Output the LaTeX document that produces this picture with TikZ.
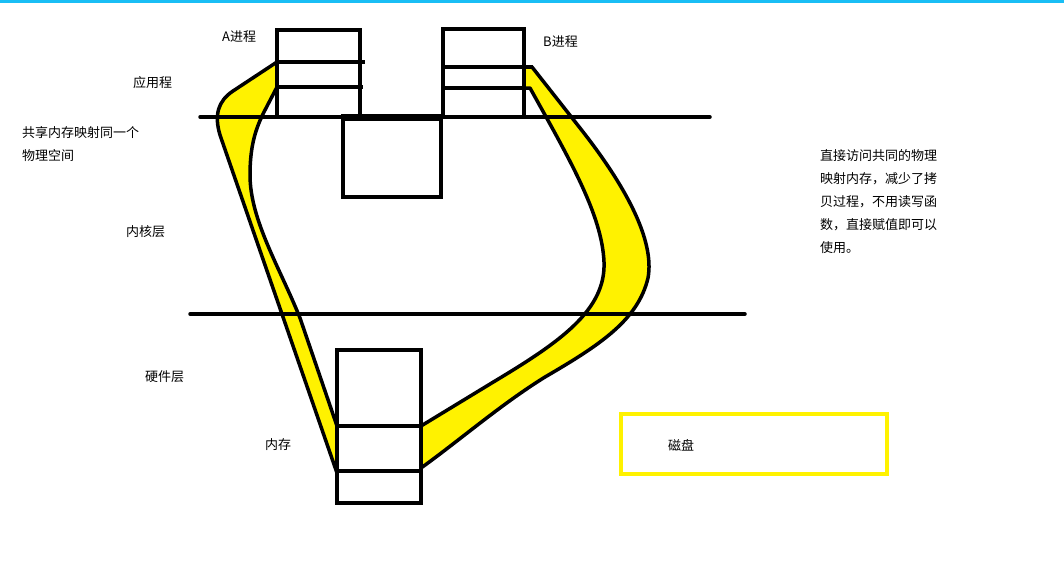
\documentclass[tikz,border=0pt]{standalone}
\usepackage{fontspec}
\setmainfont{Noto Sans CJK SC}
\definecolor{bandyellow}{RGB}{255,242,0}
\definecolor{topbar}{RGB}{25,190,245}
\tikzset{
  box/.style={draw, line width=4pt, inner sep=0pt},
  band/.style={fill=bandyellow, draw, line width=3.5pt, line join=round},
  layer/.style={line width=3.5pt, line cap=round},
  lbl/.style={font=\fontsize{13}{16}\selectfont, inner sep=0pt, anchor=west},
}
\begin{document}
\begin{tikzpicture}[x=1pt, y=-1pt]
    \useasboundingbox (0,0) rectangle (1064,568);
    \fill[topbar] (0,0) rectangle (1064,2.5);
    \draw[band] (277,62) -- (233,91) .. controls (218,101) and (214,115) .. (220,135) -- (337,473) -- (337,426) -- (300,318) .. controls (280,268) and (250,220) .. (250,175) .. controls (250,145) and (256,128) .. (264,112) -- (277,87) -- cycle;
    \draw[band] (524,67) -- (532,67) -- (580,128) .. controls (625,185) and (655,240) .. (648,278) .. controls (638,320) and (600,345) .. (545,377) .. controls (500,405) and (460,440) .. (421,468) -- (421,426) -- (495,381) .. controls (560,342) and (606,310) .. (604,262) .. controls (602,215) and (570,160) .. (530,88) -- (524,88) -- cycle;
    \coordinate (userL) at (200,117);
    \coordinate (userR) at (710,117);
    \coordinate (kernL) at (190,314);
    \coordinate (kernR) at (745,314);
    \draw[layer] (userL) -- (userR);
    \draw[layer] (kernL) -- (kernR);
    \node[box, minimum width=83pt, minimum height=87pt] (procA) at (318.5,73.5) {};
    \node[box, minimum width=81pt, minimum height=88pt] (procB) at (483.5,73) {};
    \node[box, minimum width=98pt, minimum height=78pt] (kbox) at (392,158) {};
    \node[box, minimum width=84pt, minimum height=153pt] (mem) at (379,426.5) {};
    \node[box, draw=bandyellow, minimum width=266pt, minimum height=60pt] (disk) at (754,444) {};
    \draw[line width=4pt] (procA.west |- 0,62) -- (365,62);
    \draw[line width=4pt] (procA.west |- 0,87) -- (363,87);
    \draw[line width=4pt] (procB.west |- 0,67) -- (533,67);
    \draw[line width=4pt] (procB.west |- 0,88) -- (procB.east |- 0,88);
    \draw[line width=7pt] (kbox.north west) -- (kbox.north east);
    \draw[line width=4pt] (mem.west |- 0,426) -- (mem.east |- 0,426);
    \draw[line width=4pt] (mem.west |- 0,471) -- (mem.east |- 0,471);
    \node[lbl] (labA) at (222,37) {A进程};
    \node[lbl] (labB) at (543,42) {B进程};
    \node[lbl] (labApp) at (133,83) {应用程};
    \node[lbl, anchor=north west, align=left, font=\fontsize{13}{23}\selectfont] (labShare) at (22,126) {共享内存映射同一个\\物理空间};
    \node[lbl] (labKern) at (126,232) {内核层};
    \node[lbl] (labHw) at (145,377) {硬件层};
    \node[lbl] (labMem) at (265,445) {内存};
    \node[lbl] (labDisk) at (668,445) {磁盘};
    \node[lbl, anchor=north west, align=left, font=\fontsize{13}{23}\selectfont] (note) at (820,149) {直接访问共同的物理\\映射内存，减少了拷\\贝过程，不用读写函\\数，直接赋值即可以\\使用。};
\end{tikzpicture}
\end{document}
